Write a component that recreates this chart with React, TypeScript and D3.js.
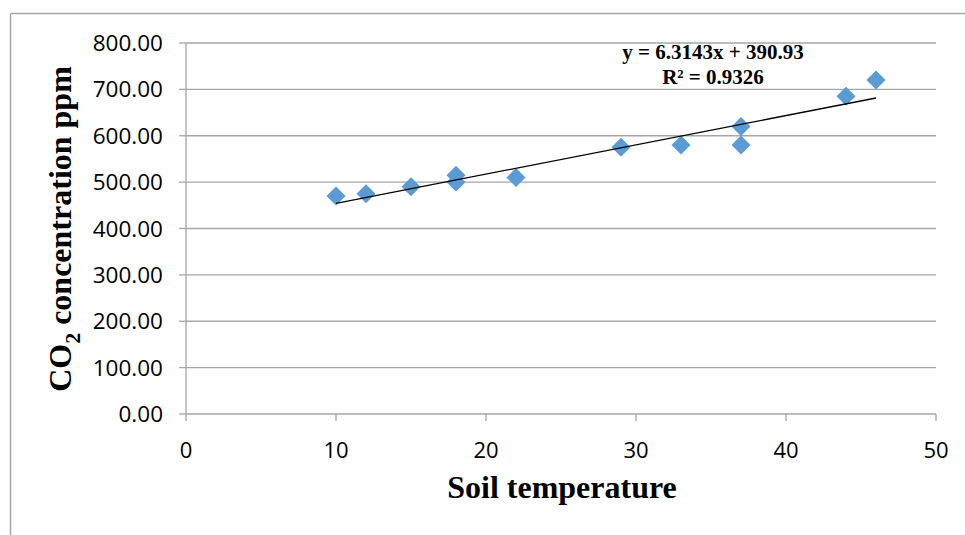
import React, { useEffect } from "react";
import * as d3 from "d3";

// soil temperature vs CO2 readings
const soilTemp = [10, 12, 15, 18, 18, 22, 29, 33, 37, 37, 44, 46];
const co2ppm = [470, 475, 490, 515, 500, 510, 575, 580, 620, 580, 685, 720];
const xTicks = [0, 10, 20, 30, 40, 50];
const yTicks = [0, 100, 200, 300, 400, 500, 600, 700, 800];
const slope = 6.3143;
const intercept = 390.93;
const equationLines = ["y = 6.3143x + 390.93", "R\u00b2 = 0.9326"];

const W = 965;
const H = 535;
const margin = { top: 43, right: 29, bottom: 121, left: 186 };

const App = () => {
  useEffect(() => {
    document.body.style.margin = "0";
  }, []);

  const x = d3
    .scaleLinear()
    .domain([0, 50])
    .range([margin.left, W - margin.right]);
  const y = d3
    .scaleLinear()
    .domain([0, 800])
    .range([H - margin.bottom, margin.top]);

  const diamond = d3.symbol().type(d3.symbolSquare).size(180)();
  const trend = d3.line<number>()
    .x((d) => x(d))
    .y((d) => y(slope * d + intercept));
  const tExtent = d3.extent(soilTemp) as [number, number];

  const grey = "#a6a6a6";
  const tickFont = "'Open Sans', 'Liberation Sans', sans-serif";
  const serif = "'Liberation Serif', 'Times New Roman', serif";

  return (
    <svg width={W} height={H} style={{ display: "block", background: "#fff" }}>
      {/* outer chart border */}
      <line x1={10.5} x2={W} y1={13.5} y2={13.5} stroke={grey} strokeWidth={1.5} />
      <line x1={10.5} x2={10.5} y1={13.5} y2={H} stroke={grey} strokeWidth={1.5} />

      {/* gridlines + y ticks */}
      {yTicks.map((t) => (
        <g key={t}>
          {t > 0 && (
            <line x1={x(0)} x2={x(50)} y1={y(t)} y2={y(t)} stroke={grey} strokeWidth={1.3} />
          )}
          <line x1={x(0) - 7} x2={x(0)} y1={y(t)} y2={y(t)} stroke={grey} strokeWidth={1.3} />
          <text
            x={x(0) - 23}
            y={y(t)}
            dy="0.36em"
            textAnchor="end"
            fontFamily={tickFont}
            fontSize={22.5}
            fill="#000"
          >
            {t.toFixed(2)}
          </text>
        </g>
      ))}

      {/* axes */}
      <line x1={x(0)} x2={x(0)} y1={y(800)} y2={y(0)} stroke={grey} strokeWidth={1.3} />
      <line x1={x(0)} x2={x(50)} y1={y(0)} y2={y(0)} stroke={grey} strokeWidth={1.3} />
      {xTicks.map((t) => (
        <g key={t}>
          <line x1={x(t)} x2={x(t)} y1={y(0)} y2={y(0) + 7} stroke={grey} strokeWidth={1.3} />
          <text
            x={x(t)}
            y={458}
            textAnchor="middle"
            fontFamily={tickFont}
            fontSize={22}
            fill="#000"
          >
            {t}
          </text>
        </g>
      ))}

      {/* data */}
      {soilTemp.map((t, i) => (
        <path
          key={i}
          d={diamond}
          transform={`translate(${x(t)},${y(co2ppm[i])}) rotate(45)`}
          fill="#5b9bd5"
        />
      ))}

      {/* linear trendline */}
      <path d={trend(tExtent) || ""} fill="none" stroke="#000" strokeWidth={1.3} />

      {equationLines.map((s, i) => (
        <text
          key={s}
          x={713}
          y={59 + i * 25}
          textAnchor="middle"
          fontFamily={serif}
          fontWeight="bold"
          fontSize={21}
          fill="#000"
        >
          {s}
        </text>
      ))}

      {/* axis titles */}
      <text
        x={562}
        y={498}
        textAnchor="middle"
        fontFamily={serif}
        fontWeight="bold"
        fontSize={32}
        fill="#000"
      >
        Soil temperature
      </text>
      <text
        transform="translate(71,229) rotate(-90)"
        textAnchor="middle"
        fontFamily={serif}
        fontWeight="bold"
        fontSize={32}
        fill="#000"
      >
        CO
        <tspan fontSize={22} dy={9}>2</tspan>
        <tspan dy={-9}> concentration ppm</tspan>
      </text>
    </svg>
  );
};

export default App;
